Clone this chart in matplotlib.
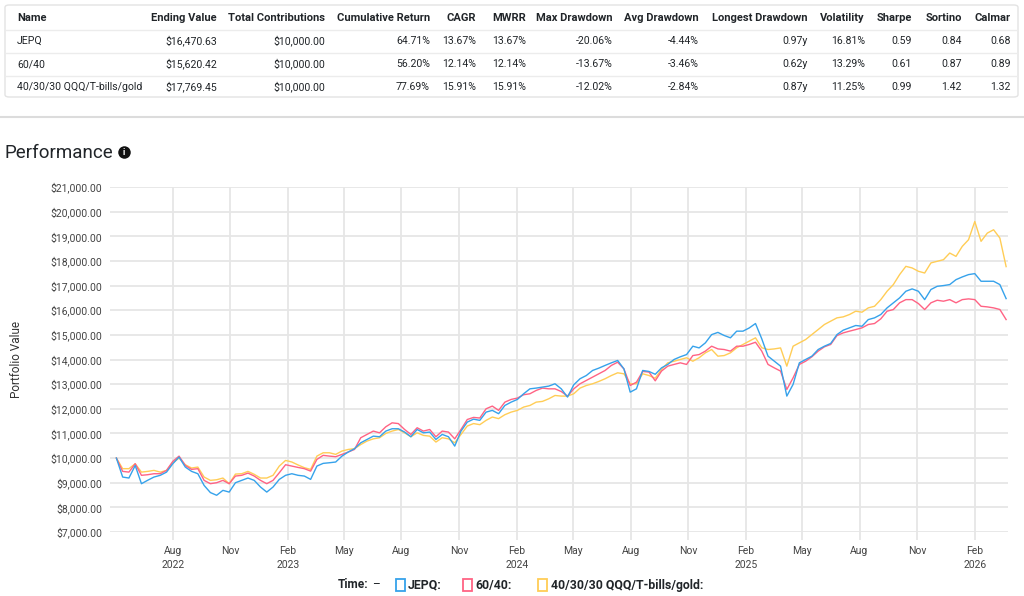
import matplotlib
matplotlib.use('Agg')
import matplotlib.pyplot as plt
from matplotlib.patches import FancyBboxPatch, Rectangle
from matplotlib.lines import Line2D
import matplotlib.ticker as mticker
import pandas as pd

plt.rcParams['font.family'] = ['Roboto', 'DejaVu Sans']

# ---------------- data ----------------
series_names = ["JEPQ", "60/40", "40/30/30 QQQ/T-bills/gold"]
start_date = "2022-05-03"
step = "10D"

jepq = [10000, 9230, 9190, 9700, 8960, 9100, 9230, 9300, 9430, 9770,
        10040, 9635, 9460, 9365, 8890, 8600, 8490, 8690, 8620, 9000,
        9095, 9190, 9095, 8825, 8620, 8825, 9135, 9300, 9365, 9300,
        9270, 9135, 9675, 9785, 9810, 9840, 10080, 10245, 10380, 10620,
        10755, 10890, 10865, 11095, 11190, 11190, 11055, 10865, 11160, 11025,
        11055, 10755, 10960, 10865, 10485, 11095, 11460, 11580, 11530, 11865,
        11935, 11800, 12135, 12270, 12380, 12610, 12810, 12840, 12880, 12920,
        13015, 12810, 12475, 12975, 13220, 13350, 13555, 13650, 13760, 13865,
        13960, 13620, 12675, 12810, 13555, 13515, 13400, 13660, 13800, 14000,
        14110, 14200, 14540, 14470, 14675, 15010, 15100, 14975, 14880, 15150,
        15150, 15280, 15460, 14840, 14135, 13930, 13730, 12515, 12990, 13865,
        14000, 14135, 14405, 14540, 14650, 15010, 15190, 15285, 15380, 15350,
        15620, 15690, 15825, 16095, 16300, 16500, 16770, 16865, 16770, 16430,
        16840, 16970, 17000, 17040, 17240, 17350, 17445, 17485, 17175, 17175,
        17175, 17040, 16470.63]

sixty_forty = [10000, 9460, 9430, 9770, 9300, 9325, 9365, 9365, 9500, 9865,
               10080, 9700, 9540, 9570, 9095, 8960, 9000, 9095, 8960, 9270,
               9300, 9390, 9270, 9095, 8960, 9095, 9405, 9730, 9675, 9620,
               9570, 9470, 9945, 10110, 10080, 10055, 10150, 10245, 10350, 10825,
               10960, 11095, 11025, 11270, 11430, 11400, 11160, 10960, 11230, 11095,
               11160, 10865, 11095, 11055, 10780, 11160, 11565, 11650, 11625, 12000,
               12110, 11935, 12270, 12380, 12435, 12570, 12610, 12745, 12840, 12810,
               12810, 12700, 12515, 12810, 13015, 13150, 13285, 13420, 13555, 13760,
               13890, 13620, 12945, 13080, 13515, 13490, 13135, 13530, 13730, 13800,
               13865, 13800, 14160, 14200, 14340, 14540, 14430, 14405, 14340, 14540,
               14540, 14610, 14700, 14340, 13800, 13660, 13530, 12785, 13255, 13800,
               13930, 14110, 14340, 14515, 14610, 14970, 15080, 15150, 15215, 15285,
               15420, 15460, 15650, 15960, 16027, 16300, 16430, 16430, 16270, 16027,
               16300, 16405, 16365, 16430, 16300, 16430, 16460, 16430, 16160, 16135,
               16095, 16030, 15620.42]

qqq_bills_gold = [10000, 9570, 9570, 9770, 9430, 9460, 9500, 9430, 9500, 9810,
                  10000, 9730, 9595, 9635, 9230, 9095, 9120, 9190, 8960, 9350,
                  9365, 9460, 9340, 9190, 9190, 9300, 9675, 9905, 9840, 9720,
                  9610, 9540, 10080, 10215, 10215, 10150, 10285, 10350, 10380, 10550,
                  10690, 10780, 10825, 11000, 11095, 11160, 11025, 10865, 11025, 10920,
                  10890, 10650, 10825, 10780, 10620, 10960, 11300, 11400, 11355, 11530,
                  11665, 11600, 11760, 11865, 11935, 12070, 12135, 12270, 12300, 12405,
                  12540, 12515, 12515, 12610, 12840, 12945, 13015, 13110, 13220, 13350,
                  13460, 13420, 13015, 13015, 13420, 13350, 13240, 13595, 13865, 13930,
                  14000, 14070, 13930, 14070, 14270, 14405, 14135, 14160, 14270, 14475,
                  14610, 14745, 14880, 14475, 14405, 14430, 14470, 13730, 14540, 14675,
                  14810, 15010, 15215, 15420, 15555, 15690, 15730, 15825, 15960, 15920,
                  16095, 16160, 16430, 16770, 17040, 17445, 17780, 17715, 17580, 17510,
                  17920, 17985, 18050, 18320, 18185, 18590, 18860, 19600, 18795, 19130,
                  19265, 18930, 17769.45]

x_tick_dates = ["2022-08-01", "2022-11-01", "2023-02-01", "2023-05-01", "2023-08-01",
                "2023-11-01", "2024-02-01", "2024-05-01", "2024-08-01", "2024-11-01",
                "2025-02-01", "2025-05-01", "2025-08-01", "2025-11-01", "2026-02-01"]
x_tick_labels = ["Aug\n2022", "Nov", "Feb\n2023", "May", "Aug", "Nov", "Feb\n2024", "May",
                 "Aug", "Nov", "Feb\n2025", "May", "Aug", "Nov", "Feb\n2026"]
x_min, x_max = "2022-04-22", "2026-03-26"
y_min, y_max, y_step = 7000, 21000, 1000

# table
table_headers = ["Name", "Ending Value", "Total Contributions", "Cumulative Return", "CAGR",
                 "MWRR", "Max Drawdown", "Avg Drawdown", "Longest Drawdown", "Volatility",
                 "Sharpe", "Sortino", "Calmar"]
ending_value = [16470.63, 15620.42, 17769.45]
total_contrib = [10000.00, 10000.00, 10000.00]
cum_return = [64.71, 56.20, 77.69]
cagr = [13.67, 12.14, 15.91]
mwrr = [13.67, 12.14, 15.91]
max_dd = [-20.06, -13.67, -12.02]
avg_dd = [-4.44, -3.46, -2.84]
longest_dd = [0.97, 0.62, 0.87]
volatility = [16.81, 13.29, 11.25]
sharpe = [0.59, 0.61, 0.99]
sortino = [0.84, 0.87, 1.42]
calmar = [0.68, 0.89, 1.32]

colors = ["#36a2eb", "#ff6384", "#ffcd56"]

# ---------------- figure ----------------
W, H = 1024, 596
fig = plt.figure(figsize=(W / 100, H / 100), dpi=100)


def fx(x):
    return x / W


def fy(y):
    return 1 - y / H


TXT = "#212529"

# table box
box = FancyBboxPatch((fx(5), fy(97)), fx(1013), (97 - 5) / H,
                     boxstyle="round,pad=0,rounding_size=0.004",
                     transform=fig.transFigure, fc="white", ec="#e3e3e3", lw=1.0)
fig.patches.append(box)
for yy in [30, 53, 76]:
    fig.add_artist(Line2D([fx(6), fx(1017)], [fy(yy), fy(yy)], transform=fig.transFigure,
                          color="#ececec", lw=1.0))

col_x = [17, 217, 325, 430, 476, 526, 613, 699, 808, 865, 912, 962, 1011]
row_y = [18, 41, 64, 87]
for i, h in enumerate(table_headers):
    fig.text(fx(col_x[i]), fy(row_y[0]), h, ha="left" if i == 0 else "right", va="center",
             fontsize=8, fontweight="bold", color=TXT)

for r in range(3):
    cells = [series_names[r],
             "${:,.2f}".format(ending_value[r]),
             "${:,.2f}".format(total_contrib[r]),
             "{:.2f}%".format(cum_return[r]),
             "{:.2f}%".format(cagr[r]),
             "{:.2f}%".format(mwrr[r]),
             "{:.2f}%".format(max_dd[r]),
             "{:.2f}%".format(avg_dd[r]),
             "{:.2f}y".format(longest_dd[r]),
             "{:.2f}%".format(volatility[r]),
             "{:.2f}".format(sharpe[r]),
             "{:.2f}".format(sortino[r]),
             "{:.2f}".format(calmar[r])]
    for i, c in enumerate(cells):
        fig.text(fx(col_x[i]), fy(row_y[r + 1]), c, ha="left" if i == 0 else "right",
                 va="center", fontsize=7.6, color=TXT)

# separator line
fig.add_artist(Line2D([0, 1], [fy(117), fy(117)], transform=fig.transFigure,
                      color="#dcdcdc", lw=1.5))

# title with info icon
fig.text(fx(5), fy(153), "Performance", ha="left", va="center", fontsize=13.5, color=TXT)
fig.add_artist(Line2D([fx(124)], [fy(152)], transform=fig.transFigure, marker="o",
                      markersize=9, color="#111111", markeredgewidth=0))
fig.text(fx(124), fy(152), "i", ha="center", va="center", fontsize=6.5, fontweight="bold",
         color="white")

# ---------------- chart ----------------
ax = fig.add_axes([fx(109.5), fy(532), (1008 - 109.5) / W, (532 - 187) / H])
dates = pd.date_range(start_date, periods=len(jepq), freq=step)

ax.plot(dates, qqq_bills_gold, color=colors[2], lw=1.0, zorder=3)
ax.plot(dates, sixty_forty, color=colors[1], lw=1.0, zorder=4)
ax.plot(dates, jepq, color=colors[0], lw=1.0, zorder=5)

ax.set_xlim(pd.Timestamp(x_min), pd.Timestamp(x_max))
ax.set_ylim(y_min, y_max)
ax.set_yticks(range(y_min, y_max + 1, y_step))
ax.yaxis.set_major_formatter(mticker.FuncFormatter(lambda v, p: "${:,.2f}".format(v)))
ax.set_xticks(pd.to_datetime(x_tick_dates))
ax.set_xticklabels(x_tick_labels, linespacing=1.55)

ax.grid(True, color="#e6e6e6", lw=1.3, zorder=0)
ax.set_axisbelow(True)
for s in ax.spines.values():
    s.set_visible(False)
ax.tick_params(axis="y", length=0, pad=5, labelsize=7.5, labelcolor="#444444")
ax.tick_params(axis="x", length=6, width=1.3, color="#e6e6e6", pad=4, labelsize=7.5,
               labelcolor="#444444")
ax.set_ylabel("Portfolio Value", fontsize=8.5, color="#333333")
ax.yaxis.set_label_coords(-0.096, 0.5)

# ---------------- legend ----------------
ly = 585
fig.text(fx(338), fy(ly), "Time:", ha="left", va="center", fontsize=8.6, fontweight="bold",
         color=TXT)
fig.text(fx(372), fy(ly), "\u2013", ha="left", va="center", fontsize=8.6, color=TXT)
leg_items = [(396, 408), (463, 475), (538, 551)]
for (sq_x, tx), name, col in zip(leg_items, series_names, colors):
    fig.patches.append(Rectangle((fx(sq_x), fy(ly + 6)), 9 / W, 12 / H,
                                 transform=fig.transFigure, fc="white", ec=col, lw=1.3))
    fig.text(fx(tx), fy(ly), name + ":", ha="left", va="center", fontsize=8.8,
             fontweight="bold", color=TXT)

fig.savefig("out.png", dpi=100)
